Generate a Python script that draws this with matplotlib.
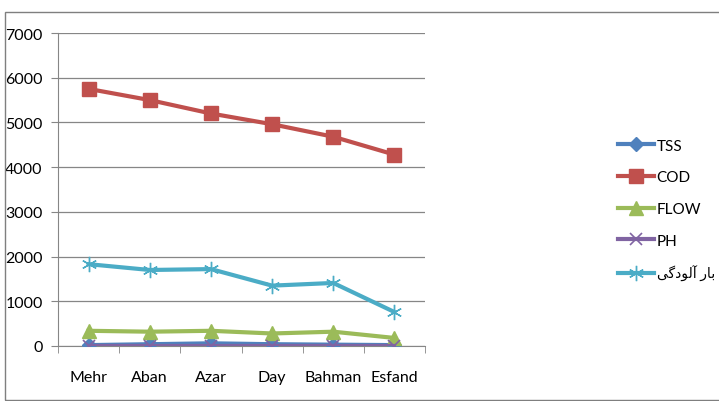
import matplotlib
matplotlib.use("Agg")
import matplotlib.pyplot as plt
from matplotlib.patches import Rectangle

months = ["Mehr", "Aban", "Azar", "Day", "Bahman", "Esfand"]
tss = [20, 40, 60, 40, 30, 20]
cod = [5750, 5500, 5200, 4960, 4680, 4280]
flow = [340, 320, 340, 280, 320, 180]
ph = [7, 7, 7, 7, 7, 7]
load = [1830, 1700, 1720, 1350, 1410, 760]
yticks = [0, 1000, 2000, 3000, 4000, 5000, 6000, 7000]

# Persian label, pre-shaped into presentation forms, visual order
load_label = "\uFBFD\uFB94\uFEA9\uFEEE\uFEDF\uFE81 \uFEAD\uFE8E\uFE91"

plt.rcParams['font.family'] = ['Lato', 'DejaVu Sans']

fig = plt.figure(figsize=(7.19, 4.02), dpi=100)
fig.patch.set_facecolor("white")
fig.patches.append(Rectangle((5/719, 1/402), 716/719, 388/402, transform=fig.transFigure,
                             fill=False, edgecolor="#7f7f7f", linewidth=1.0))

ax = fig.add_axes([58/719, 1 - 347/402, 367/719, 313/402])
x = list(range(len(months)))
lw = 3.0
ax.plot(x, tss, color="#4F81BD", lw=lw, marker="D", ms=7, label="TSS", zorder=5)
ax.plot(x, cod, color="#C0504D", lw=lw, marker="s", ms=10, label="COD", zorder=5)
ax.plot(x, flow, color="#9BBB59", lw=lw, marker="^", ms=10, label="FLOW", zorder=5)
ax.plot(x, ph, color="#8064A2", lw=lw, marker="x", ms=9, mew=1.2, label="PH", zorder=6)
ax.plot(x, load, color="#4BACC6", lw=lw, marker=(6, 2, 0), ms=11, mew=1.0, label=load_label, zorder=5)

ax.set_xlim(-0.5, 5.5)
ax.set_ylim(0, 7000)
ax.set_yticks(yticks)
ax.set_yticklabels([str(v) for v in yticks], fontsize=11.5)
ax.set_xticks(x)
ax.set_xticklabels(months, fontsize=11.5)
ax.set_xticks([i - 0.5 for i in range(7)], minor=True)
ax.tick_params(axis="x", which="major", length=0, pad=17)
ax.tick_params(axis="x", which="minor", length=5, color="#868686", direction="out")
ax.tick_params(axis="y", length=5, color="#868686", pad=6)
ax.grid(axis="y", color="#868686", lw=0.9)
ax.set_axisbelow(True)
for s in ["top", "right"]:
    ax.spines[s].set_visible(False)
for s in ["left", "bottom"]:
    ax.spines[s].set_color("#868686")

leg = ax.legend(loc="center left", bbox_to_anchor=(604/719, 1 - 211/402), bbox_transform=fig.transFigure,
                frameon=False, handlelength=2.4, labelspacing=1.15, handletextpad=0.15,
                prop={'family': ['Lato', 'DejaVu Sans'], 'size': 11})
for t in leg.get_texts():
    if t.get_text() == load_label:
        t.set_fontsize(10)

fig.savefig("out.png", dpi=100)
